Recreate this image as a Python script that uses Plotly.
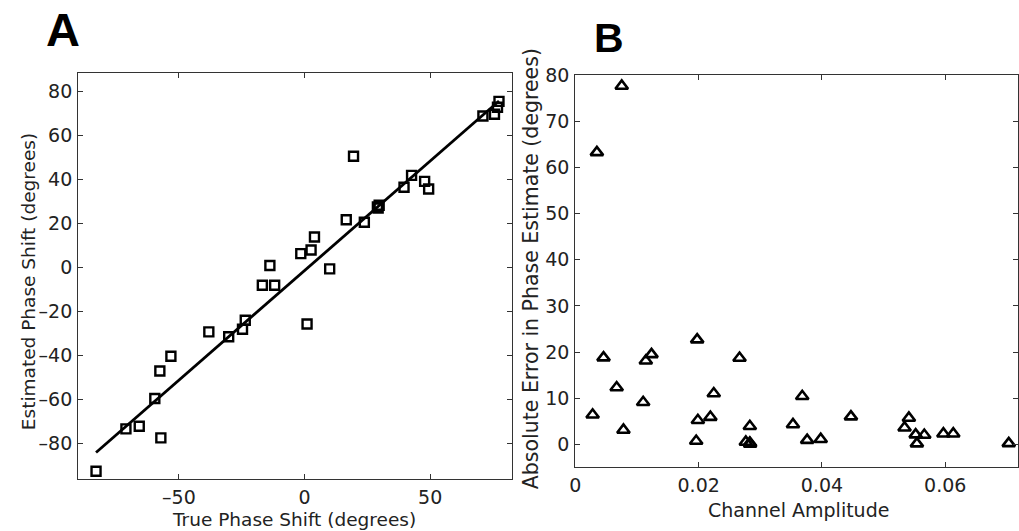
import plotly.graph_objects as go

# ---------------- Panel A data: true vs estimated phase shift (degrees) ----------------
true_shift = [-83.0, -71.1, -65.8, -57.2, -59.6, -57.6, -53.2, -38.1, -30.2, -24.7,
              -23.6, -16.8, -11.9, -13.8, -1.5, 2.6, 3.95, 1.0, 10.0, 16.6,
              19.5, 23.8, 29.0, 29.7, 29.3, 39.6, 42.6, 47.8, 49.4, 71.0,
              75.6, 76.8, 77.4]
est_shift = [-92.8, -73.5, -72.3, -77.6, -59.7, -47.2, -40.5, -29.4, -31.6, -28.2,
             -24.1, -8.2, -8.2, 0.8, 6.2, 7.9, 13.8, -25.8, -0.7, 21.6,
             50.5, 20.5, 27.5, 28.2, 27.0, 36.4, 41.8, 39.1, 35.6, 68.8,
             69.6, 72.8, 75.5]
fit_slope = 0.997
fit_intercept = -1.5

a_xticks = [-50, 0, 50]
a_xticktext = ["\u201350", "0", "50"]
a_yticks = [-80, -60, -40, -20, 0, 20, 40, 60, 80]
a_yticktext = ["\u201380", "\u201360", "\u201340", "\u201320", "0", "20", "40", "60", "80"]

# ---------------- Panel B data: channel amplitude vs absolute error ----------------
amplitude = [0.0028, 0.00349, 0.00457, 0.0067, 0.00752, 0.0078, 0.0110, 0.01143, 0.01235,
             0.0196, 0.01976, 0.01987, 0.0219, 0.02245, 0.02663, 0.02765, 0.02835, 0.0283,
             0.0283, 0.0353, 0.0368, 0.0376, 0.0398, 0.0447, 0.0534, 0.0541, 0.0552,
             0.0554, 0.0566, 0.0597, 0.0613, 0.0703]
abs_error = [6.4, 63.3, 18.8, 12.3, 77.7, 3.1, 9.1, 18.1, 19.5,
             0.7, 22.7, 5.2, 5.9, 11.0, 18.7, 0.5, 0.1, 0.3,
             3.9, 4.3, 10.4, 0.9, 1.1, 6.0, 3.6, 5.7, 2.1,
             0.15, 2.0, 2.3, 2.3, 0.2]

b_xticks = [0, 0.02, 0.04, 0.06]
b_xticktext = ["0", "0.02", "0.04", "0.06"]
b_yticks = [0, 10, 20, 30, 40, 50, 60, 70, 80]
b_yticktext = ["0", "10", "20", "30", "40", "50", "60", "70", "80"]

W, H = 1019, 531
FONT = "DejaVu Sans"
TXT = "#222222"
LINE = "#333333"

fig = go.Figure()

fig.add_trace(go.Scatter(
    x=true_shift, y=est_shift, mode="markers", xaxis="x", yaxis="y",
    marker=dict(symbol="square-open", size=9, color="black", line=dict(width=2.4, color="black")),
    showlegend=False))

lx = [min(true_shift), max(true_shift)]
ly = [fit_slope * v + fit_intercept for v in lx]
fig.add_trace(go.Scatter(
    x=lx, y=ly, mode="lines", xaxis="x", yaxis="y",
    line=dict(color="black", width=2.8), showlegend=False))

fig.add_trace(go.Scatter(
    x=amplitude, y=abs_error, mode="markers", xaxis="x2", yaxis="y2",
    marker=dict(symbol="triangle-up-open", size=11, color="black", line=dict(width=2.6, color="black")),
    showlegend=False))


def px_x(p):
    return p / W


def px_y(p):
    return 1 - p / H


axis_common = dict(
    showgrid=False, zeroline=False, showline=True, linecolor=LINE, linewidth=1.2,
    ticks="inside", ticklen=5, tickwidth=1, tickcolor=LINE, mirror="ticks",
    tickfont=dict(family=FONT, size=19, color=TXT), tickmode="array",
)

fig.update_layout(
    width=W, height=H, margin=dict(l=0, r=0, t=0, b=0),
    paper_bgcolor="white", plot_bgcolor="white",
    xaxis=dict(domain=[px_x(72.7), px_x(509.3)], range=[-90.1, 82.5], anchor="y",
               tickvals=a_xticks, ticktext=a_xticktext, ticklabelstandoff=1, **axis_common),
    yaxis=dict(domain=[px_y(478.3), px_y(63.3)], range=[-96.5, 88.4], anchor="x",
               tickvals=a_yticks, ticktext=a_yticktext, ticklabelstandoff=1, **axis_common),
    xaxis2=dict(domain=[px_x(573.3), 1.0], range=[0, 0.0718], anchor="y2",
                tickvals=b_xticks, ticktext=b_xticktext, ticklabelstandoff=1, **axis_common),
    yaxis2=dict(domain=[px_y(466), px_y(65.7)], range=[-5, 80], anchor="x2",
                tickvals=b_yticks, ticktext=b_yticktext, ticklabelstandoff=1, **axis_common),
)

annos = [
    dict(text="<b>A</b>", x=px_x(57), y=px_y(19), font=dict(family="Liberation Sans", size=47, color="black")),
    dict(text="<b>B</b>", x=px_x(607), y=px_y(28), font=dict(family="Liberation Sans", size=41, color="black")),
    dict(text="True Phase Shift (degrees)", x=px_x(290), y=px_y(519.5),
         font=dict(family=FONT, size=18.5, color=TXT)),
    dict(text="Estimated Phase Shift (degrees)", x=px_x(22), y=px_y(276), textangle=-90,
         font=dict(family=FONT, size=18.5, color=TXT)),
    dict(text="Channel Amplitude", x=px_x(797.5), y=px_y(509.5),
         font=dict(family=FONT, size=19, color=TXT)),
    dict(text="Absolute Error in Phase Estimate (degrees)", x=px_x(528.3), y=px_y(263), textangle=-90,
         font=dict(family=FONT, size=20.5, color=TXT)),
]
for a in annos:
    a.update(xref="paper", yref="paper", xanchor="center", yanchor="middle", showarrow=False)
fig.update_layout(annotations=annos)

fig.write_html("out.html")
